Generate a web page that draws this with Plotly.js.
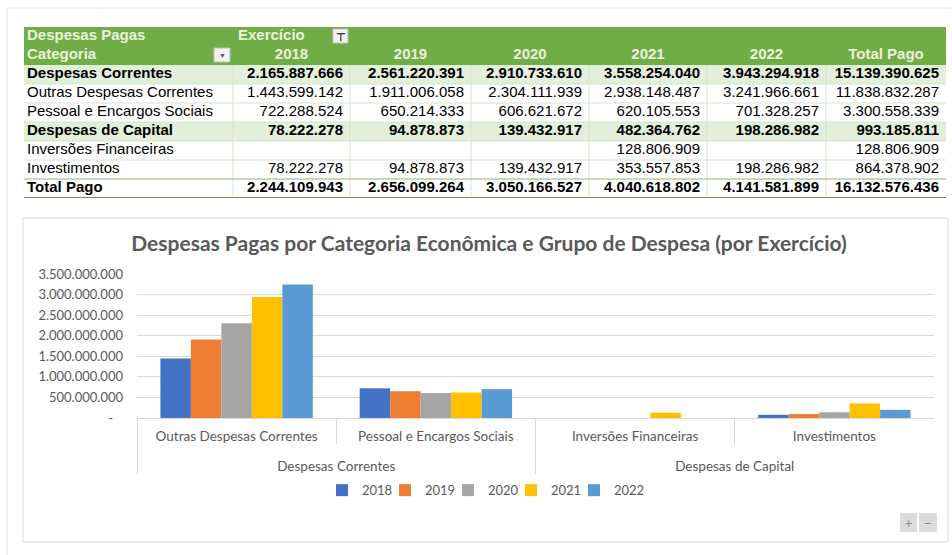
<!DOCTYPE html>
<html>
<head>
<meta charset="utf-8">
<script src="https://cdn.plot.ly/plotly-3.0.1.min.js"></script>
<style>
  html, body { margin: 0; padding: 0; background: #ffffff; }
  #chart { width: 952px; height: 555px; }
</style>
</head>
<body>
<div id="chart"></div>
<script>
// ---------- DATA ----------
const years = ['2018', '2019', '2020', '2021', '2022'];
const totalLabel = 'Total Pago';
const rowLabels = ['Despesas Correntes', 'Outras Despesas Correntes', 'Pessoal e Encargos Sociais',
                   'Despesas de Capital', 'Inversões Financeiras', 'Investimentos', 'Total Pago'];
const boldRows = [0, 3, 6];
const bandRows = [0, 3];
const v2018 = [2165887666, 1443599142, 722288524, 78222278, null, 78222278, 2244109943];
const v2019 = [2561220391, 1911006058, 650214333, 94878873, null, 94878873, 2656099264];
const v2020 = [2910733610, 2304111939, 606621672, 139432917, null, 139432917, 3050166527];
const v2021 = [3558254040, 2938148487, 620105553, 482364762, 128806909, 353557853, 4040618802];
const v2022 = [3943294918, 3241966661, 701328257, 198286982, null, 198286982, 4141581899];
const vTotal = [15139390625, 11838832287, 3300558339, 993185811, 128806909, 864378902, 16132576436];

// chart categories (outer group / inner category) and the table row that feeds each
const chartGroups = ['Despesas Correntes', 'Despesas Correntes', 'Despesas de Capital', 'Despesas de Capital'];
const chartCats = ['Outras Despesas Correntes', 'Pessoal e Encargos Sociais', 'Inversões Financeiras', 'Investimentos'];
const chartRows = [1, 2, 4, 5];
const yTickVals = [0, 500000000, 1000000000, 1500000000, 2000000000, 2500000000, 3000000000, 3500000000];
const yTickText = ['-\u00a0\u00a0\u00a0', '500.000.000', '1.000.000.000', '1.500.000.000', '2.000.000.000',
                   '2.500.000.000', '3.000.000.000', '3.500.000.000'];
const seriesColors = ['#4472C4', '#ED7D31', '#A5A5A5', '#FFC000', '#5B9BD5'];

// ---------- helpers / styles ----------
const W = 952, H = 555;
const px = x => x / W;
const py = y => 1 - y / H;
function fmt(v) {
  if (v === null || v === undefined) return '';
  return String(v).replace(/\B(?=(\d{3})+(?!\d))/g, '.');
}
const yearCols = [v2018, v2019, v2020, v2021, v2022, vTotal];
const colWidths = [209, 117, 121, 118, 118, 119, 120];
const colEdges = colWidths.reduce((a, w) => a.concat(a[a.length - 1] + w), [0]);
const nHead = 2;
const nRowsAll = nHead + rowLabels.length;
const rowEdges = Array.from({ length: nRowsAll + 1 }, (_, i) => i);
const HEAD_FILL = '#70AD47', HEAD_TXT = '#EBF1DE', BAND = '#E2EFDA';
const TFONT = 'Liberation Sans, Arial, sans-serif';
const TSIZE = 15;

// ---------- TABLE (cells on their own axes x2/y2) ----------
const zCells = rowEdges.slice(0, -1).map(r =>
  colWidths.map(() => r < nHead ? 2 : (bandRows.includes(r - nHead) ? 1 : 0)));
const cellFill = {
  type: 'heatmap', xaxis: 'x2', yaxis: 'y2',
  x: colEdges, y: rowEdges, z: zCells,
  zmin: 0, zmax: 2,
  colorscale: [[0, '#FFFFFF'], [0.5, BAND], [1, HEAD_FILL]],
  showscale: false, hoverinfo: 'skip', showlegend: false
};
const b = (s, on) => on ? '<b>' + s + '</b>' : s;

const headText = {
  type: 'scatter', mode: 'text', xaxis: 'x2', yaxis: 'y2', showlegend: false, hoverinfo: 'skip', cliponaxis: false,
  x: [3, 3, colEdges[1] + 5],
  y: [0.5, 1.5, 0.5],
  text: ['<b>Despesas Pagas</b>', '<b>Categoria</b>', '<b>Exercício</b>'],
  textposition: 'middle right',
  textfont: { family: TFONT, size: TSIZE, color: HEAD_TXT }
};
const headCols = years.concat([totalLabel]);
const headYears = {
  type: 'scatter', mode: 'text', xaxis: 'x2', yaxis: 'y2', showlegend: false, hoverinfo: 'skip', cliponaxis: false,
  x: headCols.map((_, i) => (colEdges[i + 1] + colEdges[i + 2]) / 2),
  y: headCols.map(() => 1.5),
  text: headCols.map(s => '<b>' + s + '</b>'),
  textposition: 'middle center',
  textfont: { family: TFONT, size: TSIZE, color: HEAD_TXT }
};
const rowText = {
  type: 'scatter', mode: 'text', xaxis: 'x2', yaxis: 'y2', showlegend: false, hoverinfo: 'skip', cliponaxis: false,
  x: rowLabels.map(() => 3),
  y: rowLabels.map((_, i) => nHead + i + 0.5),
  text: rowLabels.map((s, i) => b(s, boldRows.includes(i))),
  textposition: 'middle right',
  textfont: { family: TFONT, size: TSIZE, color: '#000000' }
};
const numX = [], numY = [], numT = [];
yearCols.forEach((col, c) => col.forEach((v, r) => {
  numX.push(colEdges[c + 2] - 7);
  numY.push(nHead + r + 0.5);
  numT.push(b(fmt(v), boldRows.includes(r)));
}));
const numText = {
  type: 'scatter', mode: 'text', xaxis: 'x2', yaxis: 'y2', showlegend: false, hoverinfo: 'skip', cliponaxis: false,
  x: numX, y: numY, text: numT,
  textposition: 'middle left',
  textfont: { family: TFONT, size: TSIZE, color: '#000000' }
};

// table grid lines (in table coordinates)
const GRID = '#D3E5C8';
const tableShapes = [];
colEdges.slice(1, -1).forEach(x => tableShapes.push({
  type: 'line', xref: 'x2', yref: 'y2', x0: x, x1: x, y0: nHead, y1: nRowsAll, line: { color: GRID, width: 1 }
}));
rowEdges.slice(nHead + 1, -2).forEach(y => tableShapes.push({
  type: 'line', xref: 'x2', yref: 'y2', x0: 0, x1: colEdges[colEdges.length - 1], y0: y, y1: y, line: { color: GRID, width: 1 }
}));
tableShapes.push({ type: 'line', xref: 'x2', yref: 'y2', x0: 0, x1: colEdges[colEdges.length - 1], y0: nRowsAll - 1, y1: nRowsAll - 1, line: { color: '#8FB47C', width: 1 } });
tableShapes.push({ type: 'line', xref: 'x2', yref: 'y2', x0: 0, x1: colEdges[colEdges.length - 1], y0: nRowsAll, y1: nRowsAll, line: { color: '#6B8E5A', width: 2 } });

// ---------- BARS ----------
// inner labels get an empty second line so the outer group row sits lower, as in the reference
const innerLabels = chartCats.map(c => c + '<br>\u00a0');
const barTraces = years.map((yr, k) => ({
  type: 'bar',
  name: yr,
  x: [chartGroups, innerLabels],
  y: chartRows.map(r => yearCols[k][r]),
  marker: { color: seriesColors[k] },
  hovertemplate: '%{y:,d}<extra>' + yr + '</extra>'
}));

const CFONT = 'Lato, "Open Sans", sans-serif';
const layout = {
  width: W, height: H,
  margin: { l: 0, r: 0, t: 0, b: 0 },
  paper_bgcolor: '#ffffff',
  plot_bgcolor: 'rgba(0,0,0,0)',
  separators: ',.',
  showlegend: true,
  barmode: 'group',
  bargap: 0.235,
  bargroupgap: 0,
  font: { family: CFONT, color: '#595959' },
  title: {
    text: '<b>Despesas Pagas por Categoria Econômica e Grupo de Despesa (por Exercício)</b>',
    font: { family: CFONT, size: 21, color: '#595959' },
    x: px(489), xref: 'paper', xanchor: 'center',
    y: py(244), yref: 'paper', yanchor: 'middle'
  },
  xaxis: {
    type: 'multicategory',
    domain: [px(137), px(934)],
    anchor: 'y',
    showgrid: false,
    showline: true, linecolor: '#D9D9D9', linewidth: 1,
    ticks: 'outside', tickson: 'boundaries', ticklen: 25, tickcolor: '#D9D9D9', tickwidth: 1,
    ticklabelstandoff: 6,
    showdividers: true, dividercolor: '#D9D9D9', dividerwidth: 1,
    tickfont: { family: CFONT, size: 13.5, color: '#595959' },
    fixedrange: true
  },
  yaxis: {
    domain: [py(418), py(274)],
    anchor: 'x',
    range: [0, 3500000000],
    tickvals: yTickVals,
    ticktext: yTickText,
    showgrid: true, gridcolor: '#D9D9D9', gridwidth: 1,
    zeroline: false, showline: false,
    ticks: '', ticklabelstandoff: 13,
    tickfont: { family: CFONT, size: 13, color: '#595959' },
    fixedrange: true
  },
  xaxis2: {
    domain: [px(24), px(946)], anchor: 'y2',
    range: [0, colEdges[colEdges.length - 1]],
    visible: false, fixedrange: true
  },
  yaxis2: {
    domain: [py(198), py(27)], anchor: 'x2',
    range: [nRowsAll, 0],
    visible: false, fixedrange: true
  },
  legend: {
    orientation: 'h',
    x: px(491), xanchor: 'center',
    y: py(488), yanchor: 'middle',
    font: { family: CFONT, size: 13, color: '#595959' },
    itemwidth: 30,
    entrywidth: 18,
    // invisible spacer title: keeps the legend box wide enough so the last entry is not clipped
    title: { text: '\u00a0'.repeat(300), side: 'top center', font: { family: TFONT, size: 4 } },
    traceorder: 'normal',
    bgcolor: 'rgba(0,0,0,0)'
  },
  shapes: [
    { type: 'line', xref: 'paper', yref: 'paper', x0: px(7), x1: 1, y0: py(8), y1: py(8), line: { color: '#E3E3E3', width: 1 } },
    { type: 'line', xref: 'paper', yref: 'paper', x0: px(7), x1: px(7), y0: py(8), y1: 0, line: { color: '#E3E3E3', width: 1 } },
    { type: 'rect', xref: 'paper', yref: 'paper', x0: px(23), x1: px(948), y0: py(218), y1: py(542), line: { color: '#D9D9D9', width: 1 }, layer: 'below' },
    { type: 'rect', xref: 'paper', yref: 'paper', x0: px(333), x1: px(348), y0: py(29), y1: py(43), fillcolor: '#F2F2F2', line: { color: '#BFBFBF', width: 1 } },
    { type: 'rect', xref: 'paper', yref: 'paper', x0: px(214), x1: px(230), y0: py(48), y1: py(62), fillcolor: '#F2F2F2', line: { color: '#BFBFBF', width: 1 } },
    { type: 'rect', xref: 'paper', yref: 'paper', x0: px(900), x1: px(917), y0: py(513), y1: py(532), fillcolor: '#DCDCDC', line: { width: 0 } },
    { type: 'rect', xref: 'paper', yref: 'paper', x0: px(919), x1: px(937), y0: py(513), y1: py(532), fillcolor: '#DCDCDC', line: { width: 0 } }
  ].concat(tableShapes),
  annotations: [
    { xref: 'paper', yref: 'paper', x: px(340.5), y: py(36), text: '<b>⊤</b>', showarrow: false, font: { size: 11, color: '#333333' }, xanchor: 'center', yanchor: 'middle' },
    { xref: 'paper', yref: 'paper', x: px(222), y: py(55), text: '▼', showarrow: false, font: { size: 7, color: '#555555' }, xanchor: 'center', yanchor: 'middle' },
    { xref: 'paper', yref: 'paper', x: px(908.5), y: py(522.5), text: '+', showarrow: false, font: { size: 13, color: '#8C8C8C' }, xanchor: 'center', yanchor: 'middle' },
    { xref: 'paper', yref: 'paper', x: px(928), y: py(522.5), text: '−', showarrow: false, font: { size: 13, color: '#8C8C8C' }, xanchor: 'center', yanchor: 'middle' }
  ]
};

Plotly.newPlot('chart', [cellFill, headText, headYears, rowText, numText].concat(barTraces), layout,
  { displayModeBar: false, responsive: false });
</script>
</body>
</html>
